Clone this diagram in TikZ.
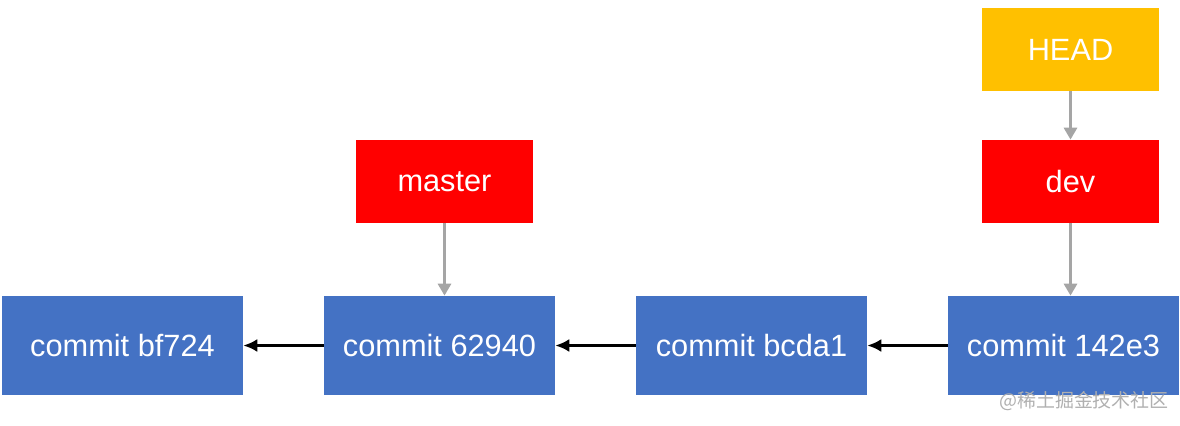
\documentclass[tikz,border=0pt]{standalone}
\usepackage{fontspec}
\setmainfont{Liberation Sans}
\newfontfamily\cjk{Noto Sans CJK SC}
\usetikzlibrary{arrows.meta}
\definecolor{commitblue}{HTML}{4472C4}
\definecolor{branchred}{HTML}{FF0000}
\definecolor{headyellow}{HTML}{FFC000}
\definecolor{pointergray}{HTML}{A5A5A5}
\definecolor{markgray}{HTML}{B0B0B0}
\begin{document}
\begin{tikzpicture}[x=0.02cm,y=-0.02cm,
	commit/.style={fill=commitblue,text=white,minimum width=4.62cm,minimum height=1.98cm,inner sep=0pt,font=\fontsize{17.5}{21}\selectfont},
	branch/.style={text=white,minimum width=3.54cm,minimum height=1.66cm,inner sep=0pt,font=\fontsize{17.5}{21}\selectfont},
	parent/.style={-{Latex[length=0.28cm,width=0.26cm]},line width=1.4pt,black},
	pointer/.style={-{Triangle[length=0.24cm,width=0.26cm]},line width=1.7pt,pointergray}]
		\useasboundingbox (0,0) rectangle (1180,426);
		% commits
		\node[commit,minimum width=4.82cm] (c1) at (122.5,345.5) {commit bf724};
		\node[commit] (c2) at (439.5,345.5) {commit 62940};
		\node[commit] (c3) at (751.5,345.5) {commit bcda1};
		\node[commit] (c4) at (1063.5,345.5) {commit 142e3};
		% branches and HEAD
		\node[branch,fill=branchred] (master) at (444.5,181.5) {master};
		\node[branch,fill=branchred] (dev) at (1070.5,181.5) {dev};
		\node[branch,fill=headyellow] (head) at (1070.5,49.5) {HEAD};
		\draw[parent] (c2)--(c1);
		\draw[parent] (c3)--(c2);
		\draw[parent] (c4)--(c3);
		\draw[pointer] (master.south)--(master.south |- c2.north);
		\draw[pointer] (dev.south)--(dev.south |- c4.north);
		\draw[pointer] (head)--(dev);
		\node[text=markgray,inner sep=0pt,font=\cjk\fontsize{10.8}{13}\selectfont] (mark) at (1084,401) {@稀土掘金技术社区};
\end{tikzpicture}
\end{document}
